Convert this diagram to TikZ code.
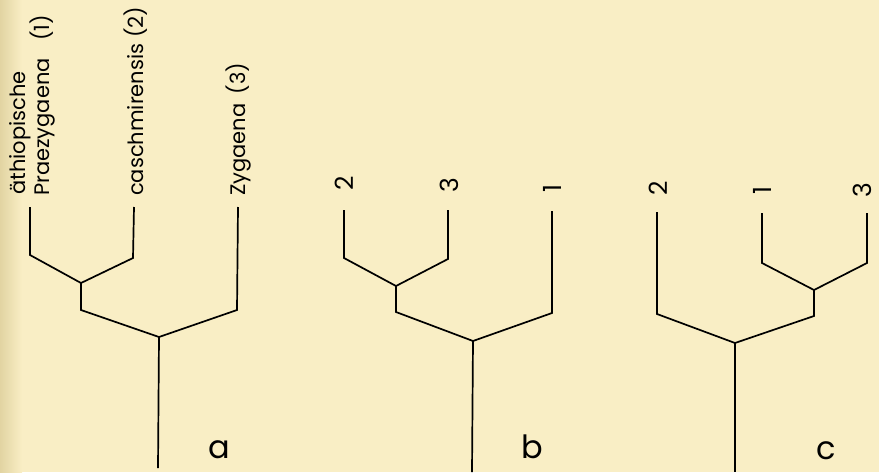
\documentclass[tikz,border=0pt]{standalone}
\usepackage{fontspec}
\setmainfont{Poppins}
\definecolor{paper}{HTML}{F9EEC5}
\definecolor{paperdark}{HTML}{E2D4A2}
\begin{document}
\begin{tikzpicture}[x=1pt,y=-1pt,
  branch/.style={line width=1.7pt,line cap=butt,line join=miter},
  taxon/.style={rotate=90,anchor=base west,inner sep=0pt,font=\fontsize{21}{25}\selectfont},
  digit/.style={rotate=90,anchor=center,inner sep=0pt,font=\fontsize{25}{29}\selectfont},
  panel/.style={anchor=base,inner sep=0pt,font=\fontsize{32}{36}\selectfont}]
\fill[paper] (0,0) rectangle (879,472);
\shade[left color=paperdark,right color=paper] (0,0) rectangle (22,472);
\useasboundingbox (0,0) rectangle (879,472);
% ---------- tree a ----------
\coordinate (a1t) at (30,207); \coordinate (a1b) at (30,255);
\coordinate (a2t) at (134,207); \coordinate (a2b) at (133,258);
\coordinate (an) at (81,283); \coordinate (anb) at (81,310);
\coordinate (a3t) at (238,207); \coordinate (a3b) at (237,310);
\coordinate (ar) at (159,337); \coordinate (as) at (158,468);
\draw[branch] (a1t) -- (a1b) -- (an) -- (a2b) -- (a2t);
\draw[branch] (an) -- (anb) -- (ar) -- (a3b) -- (a3t);
\draw[branch] (ar) -- (as);
\node[taxon] (la1) at (25,195) {äthiopische};
\node[taxon] (la2) at (49,196) {\makebox[181pt][l]{Praezygaena \hfill(1)}};
\node[taxon] (la3) at (143,196) {\makebox[184pt][l]{caschmirensis \hfill(2)}};
\node[taxon] (la4) at (245,196) {\makebox[133pt][l]{Zygaena \hfill(3)}};
\node[panel] (pa) at (219,458) {a};
% ---------- tree b ----------
\coordinate (b2t) at (344,210); \coordinate (b2b) at (344,258);
\coordinate (b3t) at (448,210); \coordinate (b3b) at (448,259);
\coordinate (bn) at (396,286); \coordinate (bnb) at (396,312);
\coordinate (b1t) at (552,211); \coordinate (b1b) at (552,313);
\coordinate (br) at (473,341); \coordinate (bs) at (472,472);
\draw[branch] (b2t) -- (b2b) -- (bn) -- (b3b) -- (b3t);
\draw[branch] (bn) -- (bnb) -- (br) -- (b1b) -- (b1t);
\draw[branch] (br) -- (bs);
\node[digit] (lb2) at (344,183) {2};
\node[digit] (lb3) at (449,185) {3};
\node[digit] (lb1) at (552,188) {1};
\node[panel] (pb) at (532,458) {b};
% ---------- tree c ----------
\coordinate (c2t) at (657,212); \coordinate (c2b) at (657,314);
\coordinate (c1t) at (762,213); \coordinate (c1b) at (762,263);
\coordinate (c3t) at (867,213); \coordinate (c3b) at (867,263);
\coordinate (cn) at (814,290); \coordinate (cnb) at (814,316);
\coordinate (cr) at (735,343); \coordinate (cs) at (735,472);
\draw[branch] (c1t) -- (c1b) -- (cn) -- (c3b) -- (c3t);
\draw[branch] (cn) -- (cnb) -- (cr) -- (c2b) -- (c2t);
\draw[branch] (cr) -- (cs);
\node[digit] (lc2) at (658,188) {2};
\node[digit] (lc1) at (762,190) {1};
\node[digit] (lc3) at (862,190) {3};
\node[panel] (pc) at (826,459) {c};
\end{tikzpicture}
\end{document}
